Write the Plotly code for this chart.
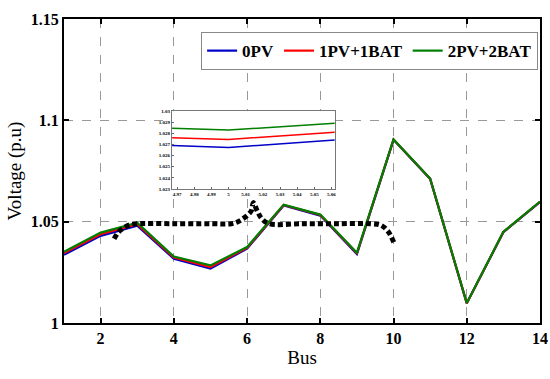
import plotly.graph_objects as go

bus = list(range(1, 15))
v_0pv = [1.0337, 1.0430, 1.0480, 1.0317, 1.0268, 1.0367, 1.0580, 1.0530, 1.0340, 1.0904, 1.0711, 1.0097, 1.0448, 1.0597]
v_1pv = [1.0345, 1.0438, 1.0487, 1.0323, 1.0276, 1.0371, 1.0582, 1.0533, 1.0344, 1.0905, 1.0712, 1.0098, 1.0449, 1.0598]
v_2pv = [1.0352, 1.0446, 1.0495, 1.0328, 1.0284, 1.0375, 1.0584, 1.0535, 1.0347, 1.0906, 1.0713, 1.0099, 1.0450, 1.0599]

# zoomed inset data around bus 5
inset_x = [4.967, 5.0, 5.062]
inset_0pv = [1.02690, 1.02673, 1.02740]
inset_1pv = [1.02760, 1.02745, 1.02810]
inset_2pv = [1.02845, 1.02830, 1.02890]

# dotted curly brace (data coordinates)
brace_x = [2.37, 2.48, 2.62, 2.80, 3.0, 4.0, 5.0, 5.57, 5.75, 5.89, 6.03, 6.12, 6.17, 6.28, 6.40, 6.60, 7.5, 8.5, 9.39, 9.66, 9.85, 10.01]
brace_y = [1.0416, 1.0447, 1.0468, 1.0485, 1.0490, 1.0490, 1.0490, 1.0490, 1.0500, 1.0515, 1.0535, 1.0555, 1.0594, 1.0552, 1.0515, 1.0490, 1.0490, 1.0490, 1.0490, 1.0482, 1.0452, 1.0397]

names = ["0PV", "1PV+1BAT", "2PV+2BAT"]
colors = ["#0000C8", "#FF0000", "#007F00"]

fig = go.Figure()
for name, vals, c in zip(names, [v_0pv, v_1pv, v_2pv], colors):
    fig.add_trace(go.Scatter(x=bus, y=vals, mode="lines", name=name,
                             line=dict(color=c, width=2.2), xaxis="x", yaxis="y"))

fig.add_trace(go.Scatter(x=brace_x, y=brace_y, mode="lines", showlegend=False,
                         line=dict(color="black", width=5, dash="5px,3px", shape="spline"),
                         xaxis="x", yaxis="y"))

for name, vals, c in zip(names, [inset_0pv, inset_1pv, inset_2pv], colors):
    fig.add_trace(go.Scatter(x=inset_x, y=vals, mode="lines", showlegend=False,
                             line=dict(color=c, width=1.5), xaxis="x2", yaxis="y2"))

serif = "Liberation Serif"
fig.update_layout(
    width=550, height=379,
    margin=dict(l=64, r=10, t=19, b=56),
    paper_bgcolor="white", plot_bgcolor="white",
    font=dict(family=serif, color="black"),
    showlegend=True,
    legend=dict(orientation="h", x=0.996, y=0.957, xanchor="right", yanchor="top",
                bgcolor="white", bordercolor="#888888", borderwidth=1,
                font=dict(family=serif, size=17, weight="bold"),
                itemwidth=30, tracegroupgap=0),
    xaxis=dict(range=[1, 14], tickvals=[2, 4, 6, 8, 10, 12, 14],
               ticks="inside", ticklen=5, tickwidth=1.5, tickcolor="black",
               showline=True, linewidth=2, linecolor="black", mirror="ticks",
               showgrid=True, gridcolor="#999999", griddash="dash", gridwidth=1,
               zeroline=False, automargin=False,
               tickfont=dict(family=serif, size=16, weight="bold"),
               title=dict(text="Bus", font=dict(family=serif, size=19), standoff=4)),
    yaxis=dict(range=[1, 1.15], tickvals=[1, 1.05, 1.1, 1.15], ticktext=["1", "1.05", "1.1", "1.15"],
               ticks="inside", ticklen=5, tickwidth=1.5, tickcolor="black",
               showline=True, linewidth=2, linecolor="black", mirror="ticks",
               showgrid=True, gridcolor="#999999", griddash="dash", gridwidth=1,
               zeroline=False, automargin=False,
               tickfont=dict(family=serif, size=16, weight="bold"),
               title=dict(text="Voltage (p.u)", font=dict(family=serif, size=19), standoff=4)),
    xaxis2=dict(domain=[0.227, 0.569], anchor="y2", range=[4.967, 5.062],
                tickvals=[4.97, 4.98, 4.99, 5, 5.01, 5.02, 5.03, 5.04, 5.05, 5.06],
                ticktext=["4.97", "4.98", "4.99", "5", "5.01", "5.02", "5.03", "5.04", "5.05", "5.06"],
                ticks="inside", ticklen=2, tickcolor="#666666",
                showline=True, linewidth=1, linecolor="#777777", mirror=True,
                showgrid=False, zeroline=False,
                tickfont=dict(family=serif, size=5, weight="bold")),
    yaxis2=dict(domain=[0.441, 0.697], anchor="x2", range=[1.023, 1.030],
                tickvals=[1.023, 1.024, 1.025, 1.026, 1.027, 1.028, 1.029, 1.030],
                ticktext=["1.023", "1.024", "1.025", "1.026", "1.027", "1.028", "1.029", "1.03"],
                ticks="inside", ticklen=2, tickcolor="#666666",
                showline=True, linewidth=1, linecolor="#777777", mirror=True,
                showgrid=False, zeroline=False,
                tickfont=dict(family=serif, size=5, weight="bold")),
)

# white background for the inset, covering the main grid
fig.add_shape(type="rect", xref="paper", yref="paper", x0=0.227, x1=0.569, y0=0.441, y1=0.697,
              fillcolor="white", line=dict(width=0), layer="between")

fig.write_html("out.html", config={"displayModeBar": False},
               post_script="document.body.style.margin='0px';")
